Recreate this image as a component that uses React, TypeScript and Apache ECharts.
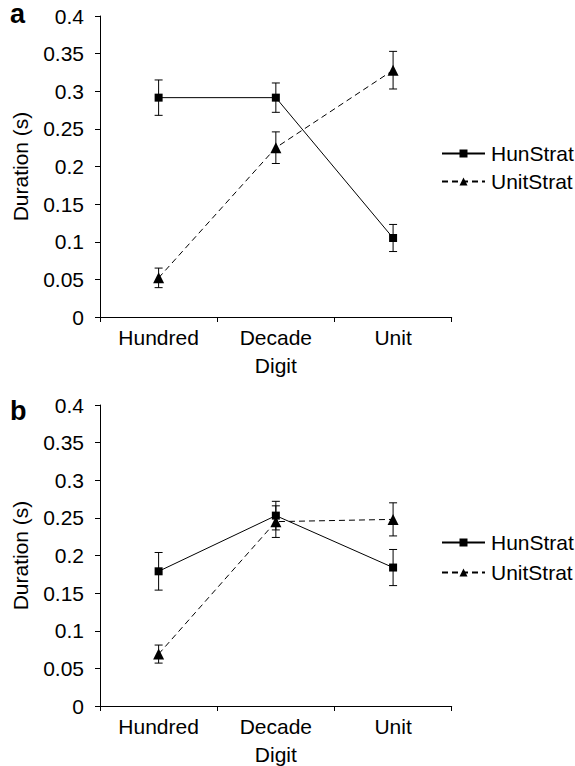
import React, { useEffect, useRef } from "react";
import * as echarts from "echarts";

const categories = ["Hundred", "Decade", "Unit"];
const yTicks = { min: 0, max: 0.4, interval: 0.05 };

const aHun = [0.2915, 0.2915, 0.105];
const aHunErr = [0.0235, 0.0195, 0.018];
const aUnit = [0.052, 0.225, 0.328];
const aUnitErr = [0.013, 0.021, 0.025];

const bHun = [0.179, 0.253, 0.184];
const bHunErr = [0.025, 0.019, 0.024];
const bUnit = [0.069, 0.245, 0.248];
const bUnitErr = [0.012, 0.021, 0.022];

const FONT = "Liberation Sans, Arial, sans-serif";
const FS = 21;

function errData(vals: number[], errs: number[]) {
  return vals.map((v, i) => [i, v - errs[i], v + errs[i]]);
}

function errRender(params: any, api: any) {
  const x = api.value(0);
  const lo = api.coord([x, api.value(1)]);
  const hi = api.coord([x, api.value(2)]);
  const w = 4;
  const style = { stroke: "#000", lineWidth: 1 };
  return {
    type: "group",
    children: [
      { type: "line", shape: { x1: lo[0], y1: lo[1], x2: hi[0], y2: hi[1] }, style },
      { type: "line", shape: { x1: lo[0] - w, y1: lo[1], x2: lo[0] + w, y2: lo[1] }, style },
      { type: "line", shape: { x1: hi[0] - w, y1: hi[1], x2: hi[0] + w, y2: hi[1] }, style },
    ],
  };
}

export default function App() {
  const ref = useRef<HTMLDivElement>(null);
  useEffect(() => {
    document.body.style.margin = "0";
    const chart = echarts.init(ref.current!, null, { renderer: "svg" });
    const axisLine = { show: true, lineStyle: { color: "#000", width: 1 } };
    const mkX = (idx: number) => ({
      type: "category",
      gridIndex: idx,
      data: categories,
      boundaryGap: true,
      axisLine,
      axisTick: { show: true, length: 5, lineStyle: { color: "#000" } },
      axisLabel: { color: "#000", fontSize: FS, fontFamily: FONT, margin: 10 },
      name: "Digit",
      nameLocation: "middle",
      nameGap: 38,
      nameTextStyle: { color: "#000", fontSize: FS, fontFamily: FONT },
      splitLine: { show: false },
    });
    const mkY = (idx: number) => ({
      type: "value",
      gridIndex: idx,
      min: yTicks.min,
      max: yTicks.max,
      interval: yTicks.interval,
      axisLine,
      axisTick: { show: true, length: 5, lineStyle: { color: "#000" } },
      axisLabel: { color: "#000", fontSize: FS, fontFamily: FONT, margin: 16 },
      splitLine: { show: false },
      name: "Duration (s)",
      nameLocation: "middle",
      nameGap: 69,
      nameTextStyle: { color: "#000", fontSize: FS, fontFamily: FONT },
    });
    const lineSeries = (name: string, data: number[], idx: number, dashed: boolean) => ({
      type: "line",
      name,
      data,
      xAxisIndex: idx,
      yAxisIndex: idx,
      symbol: dashed ? "triangle" : "rect",
      symbolSize: dashed ? 11 : 8,
      itemStyle: { color: "#000" },
      lineStyle: { color: "#000", width: 1, type: dashed ? [6, 4] : "solid" },
      z: 3,
    });
    const errSeries = (data: number[][], idx: number) => ({
      type: "custom",
      xAxisIndex: idx,
      yAxisIndex: idx,
      data,
      renderItem: errRender,
      z: 2,
    });
    const mkLegend = (top: number, gap: number) => ({
      orient: "vertical",
      left: 441,
      top,
      padding: 0,
      itemWidth: 43,
      itemHeight: 10,
      itemGap: gap,
      data: ["HunStrat", "UnitStrat"],
      textStyle: { color: "#000", fontSize: FS, fontFamily: FONT, padding: [0, 0, 0, 1] },
      selectedMode: false,
    });
    chart.setOption({
      animation: false,
      grid: [
        { left: 100, width: 351.7, top: 16, height: 301 },
        { left: 100, width: 351.7, top: 405, height: 301 },
      ],
      xAxis: [mkX(0), mkX(1)],
      yAxis: [mkY(0), mkY(1)],
      legend: [mkLegend(143, 7), mkLegend(532, 9)],
      graphic: [
        { type: "text", left: 10, top: 0, style: { text: "a", font: `bold 27px ${FONT}`, fill: "#000" } },
        { type: "text", left: 10, top: 397, style: { text: "b", font: `bold 27px ${FONT}`, fill: "#000" } },
      ],
      series: [
        errSeries(errData(aHun, aHunErr), 0),
        errSeries(errData(aUnit, aUnitErr), 0),
        lineSeries("HunStrat", aHun, 0, false),
        lineSeries("UnitStrat", aUnit, 0, true),
        errSeries(errData(bHun, bHunErr), 1),
        errSeries(errData(bUnit, bUnitErr), 1),
        lineSeries("HunStrat", bHun, 1, false),
        lineSeries("UnitStrat", bUnit, 1, true),
      ],
    });
    return () => chart.dispose();
  }, []);
  return <div ref={ref} style={{ width: 575, height: 766 }} />;
}
